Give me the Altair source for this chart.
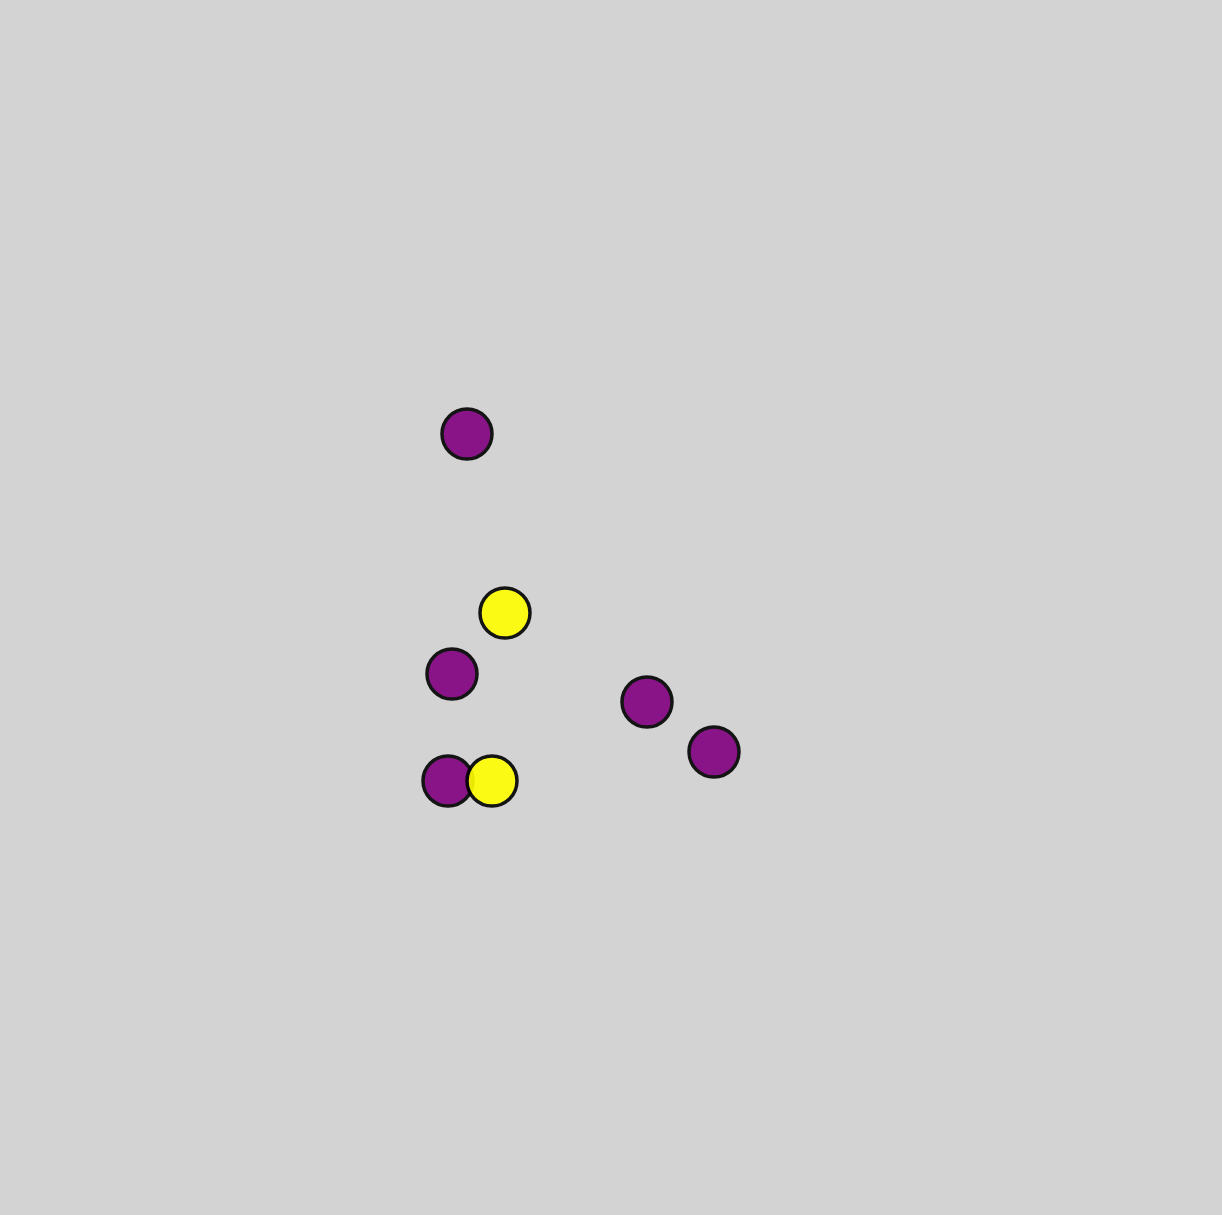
import altair as alt
import pandas as pd

# Point positions (chart units: x to the right, y downward from the top)
xs = [467, 452, 647, 714, 448, 505, 492]
ys = [434, 674, 702, 752, 781, 613, 781]
groups = ["purple", "purple", "purple", "purple", "purple", "yellow", "yellow"]

df = pd.DataFrame({"x": xs, "y": ys, "group": groups})

W, H = 1222, 1215

chart = alt.Chart(df).mark_circle(
    size=2500, opacity=0.9, stroke="black", strokeWidth=3.5
).encode(
    x=alt.X("x:Q", scale=alt.Scale(domain=[0, W], nice=False, zero=False), axis=None),
    y=alt.Y("y:Q", scale=alt.Scale(domain=[0, H], reverse=True, nice=False, zero=False), axis=None),
    color=alt.Color("group:N", scale=alt.Scale(domain=["purple", "yellow"], range=["purple", "yellow"]), legend=None),
).properties(
    width=W, height=H, background="#d3d3d3",
    autosize=alt.AutoSizeParams(type="none"), padding=0,
).configure_view(stroke=None)

chart.save("out.html", embed_options={"renderer": "svg", "actions": False})
